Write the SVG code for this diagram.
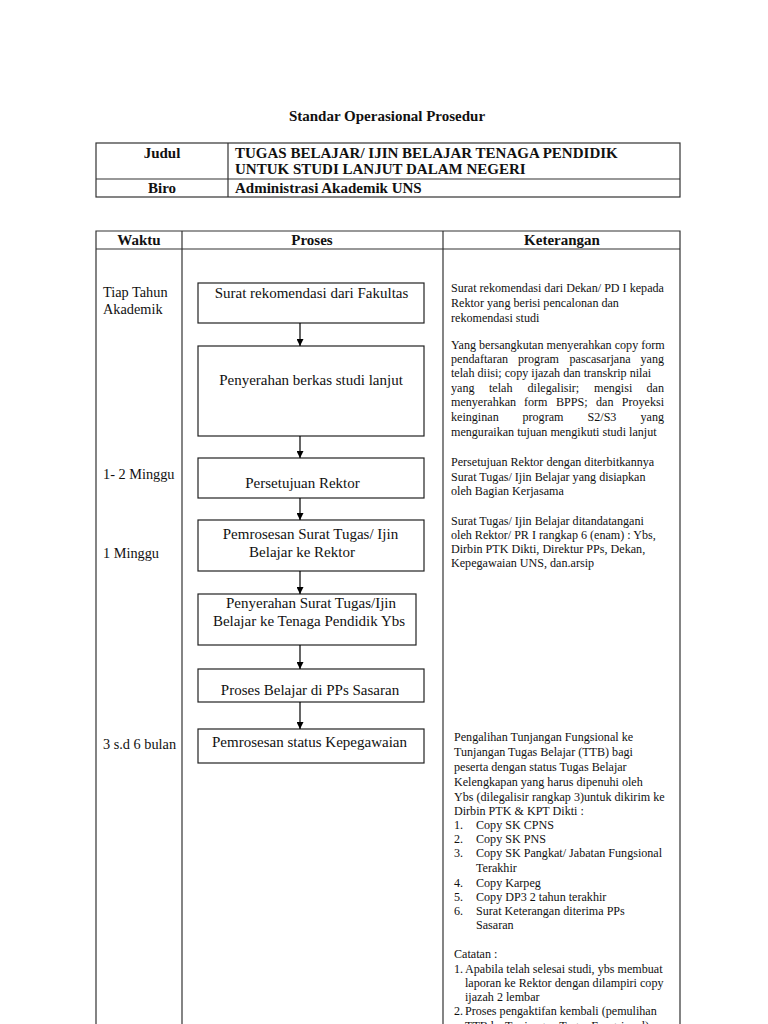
<svg xmlns="http://www.w3.org/2000/svg" width="768" height="1024" viewBox="0 0 768 1024">
<defs>
<marker id="arr" viewBox="0 0 10 10" refX="10" refY="5" markerWidth="7" markerHeight="7" markerUnits="userSpaceOnUse" orient="auto">
<path d="M0,0 L10,5 L0,10 z" fill="#000"/>
</marker>
<style>
text{font-family:"Liberation Serif","Times New Roman",serif;fill:#111}
.b{font-weight:bold;font-size:15px}
.p{font-size:15px;text-anchor:middle}
.w{font-size:14.3px}
.k{font-size:12.1px}
.e{text-anchor:end}
.box{fill:#fff;stroke:#222;stroke-width:1.2}
.grid{stroke:#333;stroke-width:1.2;fill:none}
.con{stroke:#000;stroke-width:1.2;fill:none;marker-end:url(#arr)}
</style>
</defs>
<rect width="768" height="1024" fill="#fff"/>

<text x="387" y="121" class="b" text-anchor="middle">Standar Operasional Prosedur</text>

<g id="header-table">
<rect x="96" y="143" width="584" height="54" class="grid"/>
<line x1="96" y1="179" x2="680" y2="179" class="grid"/>
<line x1="228" y1="143" x2="228" y2="197" class="grid"/>
<text x="162" y="158" class="b" text-anchor="middle">Judul</text>
<text x="235" y="158" class="b">TUGAS BELAJAR/ IJIN BELAJAR TENAGA PENDIDIK</text>
<text x="235" y="174" class="b">UNTUK STUDI LANJUT DALAM NEGERI</text>
<text x="162" y="193" class="b" text-anchor="middle">Biro</text>
<text x="235" y="193" class="b">Administrasi Akademik UNS</text>
</g>

<g id="main-table">
<path d="M96,1030 V231 H680 V1030" class="grid"/>
<line x1="96" y1="249" x2="680" y2="249" class="grid"/>
<line x1="182" y1="231" x2="182" y2="1030" class="grid"/>
<line x1="443" y1="231" x2="443" y2="1030" class="grid"/>
<text x="139" y="245" class="b" text-anchor="middle">Waktu</text>
<text x="312" y="245" class="b" text-anchor="middle">Proses</text>
<text x="562" y="245" class="b" text-anchor="middle">Keterangan</text>
</g>

<g id="waktu">
<text x="103" y="297" class="w">Tiap Tahun</text>
<text x="103" y="314" class="w">Akademik</text>
<text x="103" y="479" class="w">1- 2 Minggu</text>
<text x="103" y="558" class="w">1 Minggu</text>
<text x="103" y="749" class="w">3 s.d 6 bulan</text>
</g>

<g id="n1"><rect x="198" y="283" width="226" height="40" class="box"/><text x="311.5" y="298" class="p">Surat  rekomendasi dari Fakultas</text></g>
<g id="n2"><rect x="198" y="346" width="226" height="90" class="box"/><text x="311" y="385" class="p">Penyerahan berkas studi lanjut</text></g>
<g id="n3"><rect x="198" y="458" width="226" height="40" class="box"/><text x="302.5" y="488" class="p">Persetujuan Rektor</text></g>
<g id="n4"><rect x="198" y="520" width="226" height="51" class="box"/><text x="310.5" y="539" class="p">Pemrosesan Surat Tugas/ Ijin</text><text x="302" y="557" class="p">Belajar ke Rektor</text></g>
<g id="n5"><rect x="198" y="594" width="218" height="51" class="box"/><text x="311" y="608" class="p">Penyerahan Surat Tugas/Ijin</text><text x="309" y="626" class="p">Belajar ke Tenaga Pendidik Ybs</text></g>
<g id="n6"><rect x="198" y="669" width="226" height="33" class="box"/><text x="310" y="695" class="p">Proses Belajar di PPs Sasaran</text></g>
<g id="n7"><rect x="198" y="729" width="226" height="34" class="box"/><text x="309.5" y="747" class="p">Pemrosesan status Kepegawaian</text></g>

<g id="connectors">
<line x1="300" y1="323" x2="300" y2="346" class="con"/>
<line x1="300" y1="436" x2="300" y2="458" class="con"/>
<line x1="300" y1="498" x2="300" y2="520" class="con"/>
<line x1="300" y1="571" x2="300" y2="594" class="con"/>
<line x1="300" y1="645" x2="300" y2="669" class="con"/>
<line x1="300" y1="702" x2="300" y2="729" class="con"/>
</g>

<g id="keterangan">
<text x="451" y="292" class="k">Surat rekomendasi dari Dekan/ PD I kepada</text>
<text x="451" y="307" class="k">Rektor yang berisi pencalonan dan</text>
<text x="451" y="322" class="k">rekomendasi studi</text>

<text x="451" y="349" class="k">Yang bersangkutan menyerahkan copy form</text>
<text y="363" class="k"><tspan x="451">pendaftaran</tspan><tspan x="518">program</tspan><tspan x="569.5">pascasarjana</tspan></text>
<text x="664" y="363" class="k e">yang</text>
<text x="451" y="377" class="k">telah diisi; copy ijazah dan transkrip nilai</text>
<text y="392" class="k"><tspan x="451">yang</tspan><tspan x="489">telah</tspan><tspan x="527.5">dilegalisir;</tspan><tspan x="594">mengisi</tspan></text>
<text x="664" y="392" class="k e">dan</text>
<text y="406" class="k"><tspan x="451">menyerahkan</tspan><tspan x="524">form</tspan><tspan x="556">BPPS;</tspan><tspan x="596">dan</tspan></text>
<text x="664" y="406" class="k e">Proyeksi</text>
<text y="421" class="k"><tspan x="451">keinginan</tspan><tspan x="522.5">program</tspan><tspan x="587.5">S2/S3</tspan></text>
<text x="664" y="421" class="k e">yang</text>
<text x="451" y="436" class="k">menguraikan tujuan mengikuti studi lanjut</text>

<text x="451" y="466" class="k">Persetujuan Rektor dengan diterbitkannya</text>
<text x="451" y="481" class="k">Surat Tugas/ Ijin  Belajar yang disiapkan</text>
<text x="451" y="495" class="k">oleh Bagian Kerjasama</text>

<text x="451" y="525" class="k">Surat Tugas/ Ijin Belajar ditandatangani</text>
<text x="451" y="539" class="k">oleh Rektor/ PR I rangkap 6 (enam) : Ybs,</text>
<text x="451" y="553" class="k">Dirbin PTK Dikti, Direktur PPs, Dekan,</text>
<text x="451" y="567" class="k">Kepegawaian UNS, dan.arsip</text>

<text x="454" y="741" class="k">Pengalihan Tunjangan Fungsional ke</text>
<text x="454" y="756" class="k">Tunjangan Tugas Belajar (TTB) bagi</text>
<text x="454" y="771" class="k">peserta dengan status Tugas Belajar</text>
<text x="454" y="786" class="k">Kelengkapan yang harus dipenuhi oleh</text>
<text x="454" y="801" class="k">Ybs (dilegalisir rangkap 3)untuk dikirim ke</text>
<text x="454" y="815" class="k">Dirbin PTK &amp; KPT Dikti :</text>
<text y="829" class="k"><tspan x="454">1.</tspan><tspan x="476">Copy SK CPNS</tspan></text>
<text y="843" class="k"><tspan x="454">2.</tspan><tspan x="476">Copy SK PNS</tspan></text>
<text y="857" class="k"><tspan x="454">3.</tspan><tspan x="476">Copy SK Pangkat/ Jabatan Fungsional</tspan></text>
<text x="476" y="872" class="k">Terakhir</text>
<text y="887" class="k"><tspan x="454">4.</tspan><tspan x="476">Copy Karpeg</tspan></text>
<text y="901" class="k"><tspan x="454">5.</tspan><tspan x="476">Copy DP3 2 tahun terakhir</tspan></text>
<text y="915" class="k"><tspan x="454">6.</tspan><tspan x="476">Surat Keterangan diterima PPs</tspan></text>
<text x="476" y="929" class="k">Sasaran</text>
<text x="454" y="958" class="k">Catatan :</text>
<text y="973" class="k"><tspan x="454">1.</tspan><tspan x="465">Apabila telah selesai studi, ybs membuat</tspan></text>
<text x="465" y="987" class="k">laporan ke Rektor dengan dilampiri copy</text>
<text x="465" y="1001" class="k">ijazah 2 lembar</text>
<text y="1015" class="k"><tspan x="454">2.</tspan><tspan x="465">Proses pengaktifan kembali (pemulihan</tspan></text>
<text x="465" y="1030" class="k">TTB ke Tunjangan Tugas Fungsional)</text>
</g>
</svg>
